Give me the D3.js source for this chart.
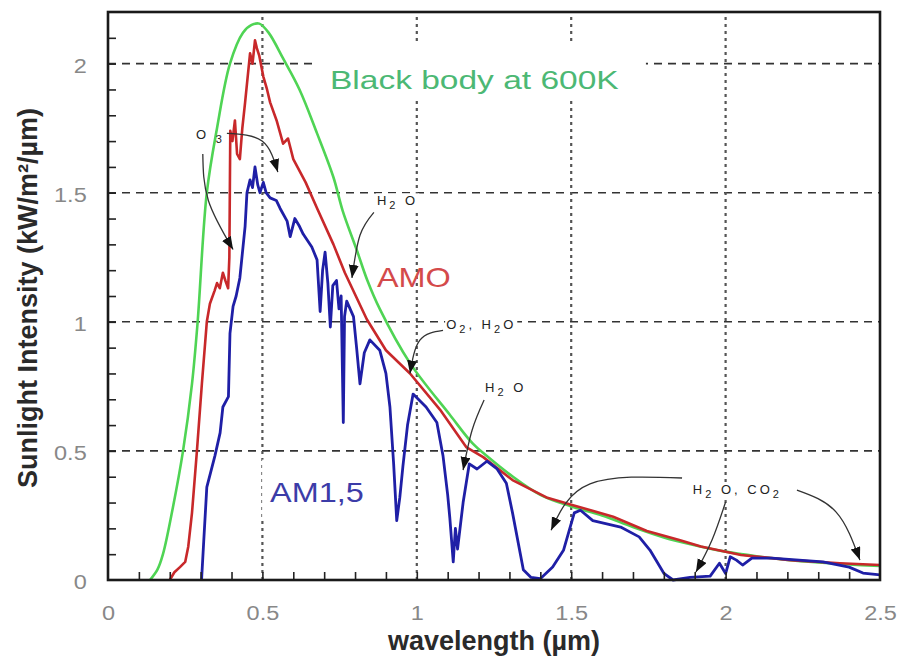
<!DOCTYPE html>
<html>
<head>
<meta charset="utf-8">
<script src="https://cdn.jsdelivr.net/npm/d3@7"></script>
<style>
  body { margin: 0; background: #fff; }
  text { font-family: "Liberation Sans", Arial, sans-serif; }
</style>
</head>
<body>
<script>
// solar spectrum: black body, AM0 and AM1.5

// black body curve
var bbWave = [0.136, 0.16, 0.178, 0.21, 0.243, 0.272, 0.29, 0.32, 0.353, 0.395, 0.437, 0.465, 0.49,
  0.52, 0.567, 0.62, 0.677, 0.73, 0.76, 0.805, 0.84, 0.88, 0.978, 1.107, 1.18, 1.227, 1.3, 1.4, 1.5,
  1.6, 1.7, 1.8, 1.9, 2.0, 2.1, 2.2, 2.3, 2.4, 2.5];
var bbVal = [0, 0.04, 0.1, 0.28, 0.5, 0.76, 0.995, 1.5, 1.75, 2.0, 2.12, 2.15, 2.155,
  2.12, 2.02, 1.9, 1.73, 1.56, 1.43, 1.28, 1.16, 1.05, 0.84, 0.64, 0.53, 0.48, 0.41, 0.33, 0.285,
  0.25, 0.205, 0.165, 0.135, 0.11, 0.092, 0.078, 0.068, 0.06, 0.054];

// AM0 (outside the atmosphere)
var am0Wave = [0.2, 0.215, 0.233, 0.25, 0.26, 0.272, 0.288, 0.304, 0.32, 0.33, 0.345, 0.353,
  0.362, 0.372, 0.38, 0.389, 0.393, 0.396, 0.403, 0.411, 0.418, 0.427, 0.435, 0.444, 0.46, 0.468,
  0.476, 0.482, 0.49, 0.503, 0.515, 0.525, 0.546, 0.567, 0.583, 0.6, 0.64, 0.677, 0.73, 0.767,
  0.838, 0.9, 0.978, 1.075, 1.16, 1.215, 1.31, 1.42, 1.506, 1.636, 1.745, 1.85, 1.92, 2.05,
  2.21, 2.37, 2.5];
var am0Val = [0, 0.03, 0.05, 0.07, 0.13, 0.26, 0.5, 0.76, 1.0, 1.07, 1.12, 1.15,
  1.13, 1.19, 1.16, 1.13, 1.25, 1.74, 1.7, 1.78, 1.65, 1.63, 1.75, 1.85, 2.04, 2.0,
  2.09, 2.06, 2.03, 1.95, 1.9, 1.85, 1.78, 1.69, 1.71, 1.63, 1.54, 1.44, 1.3, 1.19,
  1.01, 0.89, 0.8, 0.66, 0.515, 0.476, 0.387, 0.32, 0.29, 0.245, 0.19, 0.155, 0.13, 0.097,
  0.077, 0.065, 0.058];

// AM1.5 (at ground level)
var am15Wave = [0.303, 0.31, 0.32, 0.333, 0.346, 0.363, 0.372, 0.39, 0.395, 0.405, 0.415, 0.427,
  0.444, 0.45, 0.46, 0.468, 0.476, 0.485, 0.492, 0.503, 0.512, 0.525, 0.545, 0.557, 0.58, 0.59,
  0.605, 0.62, 0.632, 0.66, 0.677, 0.687, 0.695, 0.703, 0.712, 0.72, 0.728, 0.74, 0.748, 0.755,
  0.762, 0.766, 0.773, 0.795, 0.805, 0.816, 0.83, 0.848, 0.88, 0.9, 0.913, 0.925, 0.935, 0.945,
  0.955, 0.97, 0.988, 1.03, 1.065, 1.085, 1.1, 1.107, 1.118, 1.125, 1.132, 1.15, 1.17, 1.195,
  1.227, 1.26, 1.29, 1.31, 1.345, 1.37, 1.4, 1.44, 1.475, 1.51, 1.53, 1.57, 1.66, 1.72, 1.755,
  1.8, 1.83, 1.885, 1.95, 1.98, 2.0, 2.015, 2.035, 2.055, 2.085, 2.15, 2.315, 2.4, 2.445, 2.5];
var am15Val = [0, 0.15, 0.36, 0.42, 0.48, 0.57, 0.67, 0.71, 0.955, 1.06, 1.1, 1.17,
  1.37, 1.5, 1.55, 1.52, 1.6, 1.53, 1.5, 1.54, 1.5, 1.48, 1.47, 1.44, 1.39, 1.33,
  1.4, 1.37, 1.34, 1.29, 1.24, 1.04, 1.2, 1.27, 1.15, 0.98, 1.14, 1.16, 1.05, 1.1,
  0.61, 1.02, 1.08, 1.02, 0.9, 0.76, 0.88, 0.93, 0.89, 0.8, 0.67, 0.45, 0.23, 0.32,
  0.44, 0.6, 0.72, 0.67, 0.61, 0.48, 0.33, 0.24, 0.07, 0.2, 0.12, 0.3, 0.45, 0.43,
  0.46, 0.43, 0.375, 0.26, 0.04, 0.01, 0.005, 0.05, 0.115, 0.26, 0.27, 0.23, 0.205, 0.167, 0.116,
  0.026, 0, 0.01, 0.015, 0.065, 0.025, 0.09, 0.077, 0.058, 0.085, 0.085, 0.07, 0.05, 0.027, 0.02];

// tick labels
var xTickLabels = [0, 0.5, 1, 1.5, 2, 2.5];
var yTickLabels = [0, 0.5, 1, 1.5, 2];

// texts
var seriesNames = ["Black body at 600K", "AMO", "AM1,5"];
var absorbers = [
  [["O ", 0], ["3", 1]],
  [["H", 0], ["2", 1], [" O", 0]],
  [["O", 0], ["2", 1], [", H", 0], ["2", 1], ["O", 0]],
  [["H", 0], ["2", 1], [" O", 0]],
  [["H", 0], ["2", 1], [" O, CO", 0], ["2", 1]]
];

var width = 901, height = 658;

var svg = d3.select("body").append("svg")
    .attr("width", width)
    .attr("height", height);

var x = d3.scaleLinear().domain([0, 2.5]).range([108, 880]);
var y = d3.scaleLinear().domain([0, 2.2]).range([580, 12]);

function zipPts(a, b) { return a.map(function (d, i) { return [d, b[i]]; }); }

// layers
var gridLayer = svg.append("g");
var maskLayer = svg.append("g");
var curveLayer = svg.append("g");
var noteLayer = svg.append("g");
var textLayer = svg.append("g");

// dashed horizontal grid, dotted vertical grid
gridLayer.selectAll("line.h")
    .data([0.5, 1, 1.5, 2])
    .enter().append("line")
    .attr("x1", x(0)).attr("x2", x(2.5))
    .attr("y1", function (d) { return y(d); })
    .attr("y2", function (d) { return y(d); })
    .attr("stroke", "#333")
    .attr("stroke-width", 1.6)
    .attr("stroke-dasharray", "8,6");

gridLayer.selectAll("line.v")
    .data([0.5, 1, 1.5, 2])
    .enter().append("line")
    .attr("y1", y(0)).attr("y2", y(2.2))
    .attr("x1", function (d) { return x(d); })
    .attr("x2", function (d) { return x(d); })
    .attr("stroke", "#555")
    .attr("stroke-width", 2.2)
    .attr("stroke-dasharray", "3,4");

// minor ticks, pointing inwards
var minor = d3.range(1, 25).map(function (i) { return i / 10; });
svg.append("g")
    .attr("transform", "translate(0," + y(0) + ")")
    .call(d3.axisBottom(x).tickValues(minor).tickSizeInner(-8).tickSizeOuter(0).tickFormat(""))
    .call(function (g) { g.select(".domain").remove(); })
    .selectAll("line").attr("stroke", "#222").attr("stroke-width", 1.6);

svg.append("g")
    .attr("transform", "translate(" + x(0) + ",0)")
    .call(d3.axisLeft(y).tickValues(d3.range(1, 22).map(function (i) { return i / 10; }))
      .tickSizeInner(-8).tickSizeOuter(0).tickFormat(""))
    .call(function (g) { g.select(".domain").remove(); })
    .selectAll("line").attr("stroke", "#222").attr("stroke-width", 1.6);

// tick labels
var xLab = svg.append("g")
    .attr("transform", "translate(0," + y(0) + ")")
    .call(d3.axisBottom(x).tickValues(xTickLabels).tickSize(0).tickPadding(25).tickFormat(d3.format("")));
xLab.select(".domain").remove();
xLab.selectAll("text")
    .attr("font-size", 21)
    .attr("font-family", "Liberation Sans, Arial, sans-serif")
    .attr("fill", "#888")
    .attr("transform", "scale(1.12,1)");

var yLab = svg.append("g")
    .attr("transform", "translate(" + x(0) + ",0)")
    .call(d3.axisLeft(y).tickValues(yTickLabels).tickSize(0).tickPadding(19).tickFormat(d3.format("")));
yLab.select(".domain").remove();
yLab.selectAll("text")
    .attr("font-size", 21)
    .attr("font-family", "Liberation Sans, Arial, sans-serif")
    .attr("fill", "#888")
    .attr("dy", "0.4em")
    .attr("transform", "scale(1.12,1)");

// axis titles
svg.append("text")
    .attr("transform", "translate(37,298) rotate(-90)")
    .attr("text-anchor", "middle")
    .attr("font-size", 27)
    .attr("font-weight", "bold")
    .attr("fill", "#2a2a2a")
    .text("Sunlight Intensity (kW/m\u00b2/\u00b5m)");

svg.append("text")
    .attr("x", (x(0) + x(2.5)) / 2)
    .attr("y", 650)
    .attr("text-anchor", "middle")
    .attr("font-size", 27)
    .attr("font-weight", "bold")
    .attr("fill", "#2a2a2a")
    .text("wavelength (\u00b5m)");

// curves
var smooth = d3.line().x(function (d) { return x(d[0]); }).y(function (d) { return y(d[1]); })
    .curve(d3.curveCatmullRom.alpha(0.5));
var jagged = d3.line().x(function (d) { return x(d[0]); }).y(function (d) { return y(d[1]); });

curveLayer.append("path")
    .attr("d", smooth(zipPts(bbWave, bbVal)))
    .attr("fill", "none")
    .attr("stroke", "#4fd454")
    .attr("stroke-width", 2.6);

curveLayer.append("path")
    .attr("d", jagged(zipPts(am0Wave, am0Val)))
    .attr("fill", "none")
    .attr("stroke", "#c8282a")
    .attr("stroke-width", 2.6)
    .attr("stroke-linejoin", "round");

curveLayer.append("path")
    .attr("d", jagged(zipPts(am15Wave, am15Val)))
    .attr("fill", "none")
    .attr("stroke", "#1f1fa6")
    .attr("stroke-width", 2.8)
    .attr("stroke-linejoin", "round");

// frame
svg.append("rect")
    .attr("x", x(0)).attr("y", y(2.2))
    .attr("width", x(2.5) - x(0)).attr("height", y(0) - y(2.2))
    .attr("fill", "none")
    .attr("stroke", "#1a1a1a")
    .attr("stroke-width", 2.6);

// series labels, stretched sideways like in the source image
function bigLabel(str, wl, val, size, sx, color, pad) {
  var t = textLayer.append("text")
      .attr("transform", "translate(" + x(wl) + "," + y(val) + ") scale(" + sx + ",1)")
      .attr("font-size", size)
      .attr("fill", color)
      .text(str);
  if (pad) {
    var b = t.node().getBoundingClientRect();
    maskLayer.append("rect")
        .attr("x", b.left - pad[3]).attr("y", b.top - pad[0])
        .attr("width", b.width + pad[1] + pad[3])
        .attr("height", b.height + pad[0] + pad[2])
        .attr("fill", "#fff");
  }
}
bigLabel(seriesNames[0], 0.719, 1.9, 25, 1.34, "#4cb874", [24, 27, 6, 18]);
bigLabel(seriesNames[1], 0.871, 1.134, 27, 1.2, "#d44a4a", null);
bigLabel(seriesNames[2], 0.525, 0.302, 27, 1.2, "#3c3ca8", [18, 8, 10, 8]);

// absorption notes with arrows
svg.append("defs").append("marker")
    .attr("id", "head")
    .attr("markerUnits", "userSpaceOnUse")
    .attr("markerWidth", 14).attr("markerHeight", 11)
    .attr("refX", 13).attr("refY", 5)
    .attr("orient", "auto")
    .append("path")
    .attr("d", "M0,0 L13,5 L0,10 Z")
    .attr("fill", "#111");

var noteAt = [[0.285, 1.707], [0.871, 1.451], [1.095, 0.971], [1.221, 0.728], [1.894, 0.333]];
absorbers.forEach(function (parts, i) {
  var t = noteLayer.append("text")
      .attr("x", x(noteAt[i][0]))
      .attr("y", y(noteAt[i][1]))
      .attr("font-family", "DejaVu Sans Mono, monospace")
      .attr("font-size", 13)
      .attr("letter-spacing", 3)
      .attr("fill", "#222");
  var down = false;
  parts.forEach(function (p) {
    var s = t.append("tspan").text(p[0]);
    if (p[1] && !down) { s.attr("dy", 4).attr("font-size", 11); down = true; }
    else if (p[1]) { s.attr("font-size", 11); }
    else if (down) { s.attr("dy", -4); down = false; }
  });
  var b = t.node().getBoundingClientRect();
  maskLayer.append("rect")
      .attr("x", b.left - 1).attr("y", b.top)
      .attr("width", b.width + 2).attr("height", b.height)
      .attr("fill", "#fff");
});

var arrowPaths = [
  [[0.307, 1.65], [0.325, 1.47], [0.405, 1.28]],
  [[0.385, 1.73], [0.499, 1.7], [0.55, 1.58]],
  [[0.861, 1.424], [0.816, 1.335], [0.79, 1.17]],
  [[1.085, 0.967], [1.01, 0.929], [0.978, 0.8]],
  [[1.218, 0.697], [1.179, 0.58], [1.15, 0.426]],
  [[1.859, 0.395], [1.561, 0.372], [1.435, 0.193]],
  [[2.0, 0.302], [1.956, 0.155], [1.904, 0.031]],
  [[2.231, 0.348], [2.358, 0.263], [2.435, 0.077]]
];
var bent = d3.line().x(function (d) { return x(d[0]); }).y(function (d) { return y(d[1]); })
    .curve(d3.curveNatural);

noteLayer.selectAll("path.arrow")
    .data(arrowPaths)
    .enter().append("path")
    .attr("d", function (d) { return bent(d); })
    .attr("fill", "none")
    .attr("stroke", "#333")
    .attr("stroke-width", 1.3)
    .attr("marker-end", "url(#head)");
</script>
</body>
</html>
